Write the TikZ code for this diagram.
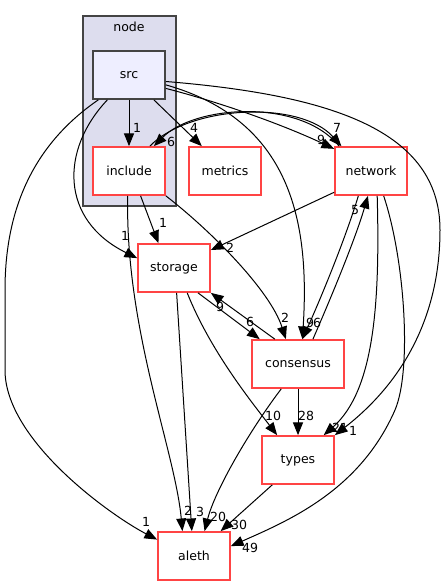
\documentclass[tikz,border=0pt]{standalone}
\usepackage{fontspec}
\setmainfont{DejaVu Sans}
\usetikzlibrary{arrows.meta}

\definecolor{dirred}{RGB}{255,68,68}
\definecolor{clusterfill}{HTML}{DDDDEE}
\definecolor{srcfill}{HTML}{EEEEFF}
\definecolor{bordergray}{HTML}{444444}

\tikzset{every picture/.style={line width=0.75pt}}
\tikzset{
  dirbox/.style={draw=dirred, fill=white, line width=1.3pt, minimum width=54pt, minimum height=36pt, inner sep=0pt, font=\fontsize{9.4}{11}\selectfont},
  edgelbl/.style={inner sep=0.75pt, font=\fontsize{9.4}{11}\selectfont},
  dep/.style={-{Triangle[length=9.5pt,width=7.5pt]}},
}

\begin{document}
\begin{tikzpicture}[x=0.75pt,y=0.75pt,yscale=-1]
\useasboundingbox (0,0) rectangle (447,585);

%Cluster
\draw [draw=bordergray, fill=clusterfill, line width=1pt] (83,16) rectangle (176,206);
% Text Node
\draw (129,27) node [edgelbl] (nodelbl) {node};

%Boxes
\draw (129,75) node [dirbox, draw=bordergray, fill=srcfill] (src) {src};
\draw (129,171) node [dirbox] (include) {include};
\draw (225,171) node [dirbox] (metrics) {metrics};
\draw (371,171) node [dirbox] (network) {network};
\draw (174,268) node [dirbox] (storage) {storage};
\draw (298,364) node [dirbox, minimum width=69pt] (consensus) {consensus};
\draw (298,460) node [dirbox] (types) {types};
\draw (194,556) node [dirbox] (aleth) {aleth};

%Straight Lines
\draw [dep] (src.south) -- (include.north) ;
\draw [dep] (src.-45) -- (metrics.133) ;
\draw [dep] (include.-65) -- (storage.122) ;
\draw [dep] (network.-150) -- (storage.26) ;
\draw [dep] (storage.-46) -- (consensus.147) ;
\draw [dep] (consensus.133) -- (storage.south east) ;
\draw [dep] (storage.-84) -- (aleth.95) ;
\draw [dep] (consensus.south) -- (types.north) ;
\draw [dep] (types.-136) -- (aleth.43) ;

%Curve Lines
\draw [dep] (src.-20) .. controls (230,105) and (290,128) .. (network.149) ;
\draw [dep] (include.50) .. controls (190,105) and (300,100) .. (network.140) ;
\draw [dep] (network.142) .. controls (300,98) and (195,105) .. (include.45) ;
\draw [dep] (src.-15) .. controls (290,120) and (310,220) .. (consensus.80) ;
\draw [dep] (src.-10) .. controls (330,95) and (440,130) .. (440,230) .. controls (440,340) and (380,400) .. (types.north east) ;
\draw [dep] (src.-131) .. controls (60,150) and (60,220) .. (storage.165) ;
\draw [dep] (src.-141) .. controls (40,140) and (5,200) .. (5,290) -- (5,370) .. controls (5,440) and (110,515) .. (aleth.156) ;
\draw [dep] (include.south east) .. controls (210,230) and (270,290) .. (consensus.116) ;
\draw [dep] (include.-93) .. controls (125,330) and (175,450) .. (aleth.115) ;
\draw [dep] (storage.-62) .. controls (210,350) and (250,400) .. (types.130) ;
\draw [dep] (network.-117) .. controls (345,240) and (320,300) .. (consensus.80) ;
\draw [dep] (consensus.59) .. controls (330,300) and (355,240) .. (network.-97) ;
\draw [dep] (network.-76) .. controls (380,300) and (375,390) .. (types.44) ;
\draw [dep] (network.-63) .. controls (405,260) and (412,370) .. (395,410) .. controls (360,490) and (290,520) .. (aleth.15) ;
\draw [dep] (consensus.-124) .. controls (250,430) and (215,490) .. (aleth.67) ;

% Text Node
\draw (137,128) node [edgelbl] (l-src-include) {1};
\draw (194,128) node [edgelbl] (l-src-metrics) {4};
\draw (171,142) node [edgelbl] (l-network-include) {6};
\draw (337,128) node [edgelbl] (l-include-network) {7};
\draw (321,140) node [edgelbl] (l-src-network) {9};
\draw (125,236) node [edgelbl] (l-src-storage) {1};
\draw (163,223) node [edgelbl] (l-include-storage) {1};
\draw (230,248) node [edgelbl] (l-network-storage) {2};
\draw (220,307) node [edgelbl] (l-consensus-storage) {9};
\draw (250,322) node [edgelbl] (l-storage-consensus) {6};
\draw (285,318) node [edgelbl] (l-include-consensus) {2};
\draw (310,323) node [edgelbl] (l-src-consensus) {9};
\draw (317,323) node [edgelbl] (l-network-consensus) {6};
\draw (355,210) node [edgelbl] (l-consensus-network) {5};
\draw (273,416) node [edgelbl] (l-storage-types) {10};
\draw (306,416) node [edgelbl] (l-consensus-types) {28};
\draw (340,428) node [edgelbl] (l-network-types) {21};
\draw (353,431) node [edgelbl] (l-src-types) {1};
\draw (146,522) node [edgelbl] (l-src-aleth) {1};
\draw (188,511) node [edgelbl] (l-include-aleth) {2};
\draw (200,512) node [edgelbl] (l-storage-aleth) {3};
\draw (218,517) node [edgelbl] (l-consensus-aleth) {20};
\draw (239,525) node [edgelbl] (l-types-aleth) {30};
\draw (250,548) node [edgelbl] (l-network-aleth) {49};

\end{tikzpicture}
\end{document}
